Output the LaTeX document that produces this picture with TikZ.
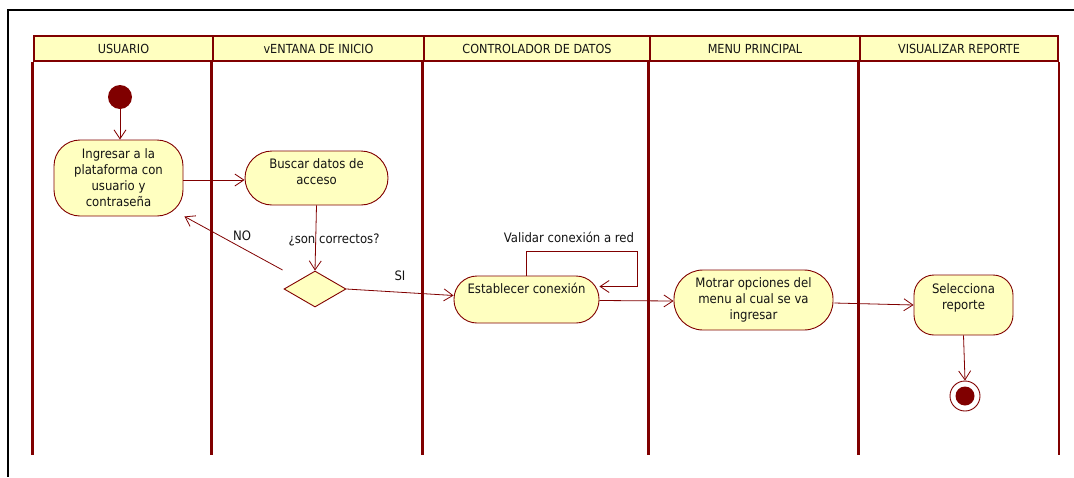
\documentclass[tikz,border=0pt]{standalone}
\usepackage{fontspec}
\setmainfont{DejaVu Sans Condensed}
\usetikzlibrary{arrows.meta,shapes.geometric}
\definecolor{dr}{RGB}{128,0,0}
\definecolor{actfill}{RGB}{255,255,192}
\definecolor{txt}{RGB}{20,20,20}
% raise a (multi-line) centred text block inside a node without changing its size
\newcommand{\liftby}[2]{\smash{\raisebox{#1}{\begin{tabular}{@{}c@{}}#2\end{tabular}}}}
\tikzset{
  lane/.style={draw=dr, line width=3pt},
  lanehead/.style={draw=dr, line width=2.4pt, fill=actfill, minimum height=25pt, inner sep=0pt,
    font=\fontsize{12.5}{14}\selectfont, text=txt},
  act/.style={draw=dr, line width=0.9pt, fill=actfill, align=center, inner sep=0pt,
    font=\fontsize{13}{16}\selectfont, text=txt},
  flow/.style={draw=dr, line width=0.8pt, -{Straight Barb[length=9pt,width=12pt,line width=0.8pt]}},
  lbl/.style={font=\fontsize{13}{15}\selectfont, text=txt, inner sep=1pt},
}
\begin{document}
\begin{tikzpicture}[x=1pt,y=-1pt]
\useasboundingbox (0,0) rectangle (1074,477);
% outer frame
\draw[black, line width=2pt] (1074,10) -- (8,10) -- (8,477);

% lane headers
\node[lanehead, minimum width=179pt] (h1) at (123.5,48.5) {USUARIO};
\node[lanehead, minimum width=211pt] (h2) at (318.5,48.5) {vENTANA DE INICIO};
\node[lanehead, minimum width=226pt] (h3) at (537,48.5) {CONTROLADOR DE DATOS};
\node[lanehead, minimum width=210pt] (h4) at (755,48.5) {MENU PRINCIPAL};
\node[lanehead, minimum width=198pt] (h5) at (959,48.5) {VISUALIZAR REPORTE};

% lane separators
\draw[lane] (h1.south west) -- (h1.south west |- 0,455);
\draw[lane] (h2.south west) -- (h2.south west |- 0,455);
\draw[lane] (h3.south west) -- (h3.south west |- 0,455);
\draw[lane] (h4.south west) -- (h4.south west |- 0,455);
\draw[lane] (h5.south west) -- (h5.south west |- 0,455);
\draw[draw=dr, line width=2pt] (h5.south east) -- (h5.south east |- 0,455);

% activity nodes
\fill[dr] (120,97) circle (12pt);
\coordinate (start) at (120,109);
\node[act, rounded corners=26pt, minimum width=129pt, minimum height=76pt] (ing) at (118.5,178)
  {Ingresar a la\\plataforma con\\usuario y\\contraseña};
\node[act, rounded corners=27pt, minimum width=143pt, minimum height=54pt] (bus) at (316.5,178)
  {\liftby{1.5pt}{Buscar datos de\\acceso}};
\node[diamond, draw=dr, line width=0.9pt, fill=actfill, minimum width=62pt, minimum height=36pt,
  aspect=1.72, inner sep=0pt] (dec) at (315,289) {};
\node[act, rounded corners=23pt, minimum width=145pt, minimum height=47pt] (est) at (526.5,299.5)
  {\liftby{6pt}{Establecer conexión}};
\node[act, rounded corners=29pt, minimum width=159pt, minimum height=60pt] (mot) at (753.5,300)
  {Motrar opciones del\\menu al cual se va\\ingresar};
\node[act, rounded corners=20pt, minimum width=99pt, minimum height=60pt] (sel) at (963.5,305)
  {\liftby{4pt}{Selecciona\\reporte}};
\node[circle, draw=dr, line width=0.9pt, fill=white, minimum size=30pt, inner sep=0pt] (fin) at (965,396) {};
\fill[dr] (fin.center) circle (9.5pt);

% flows
\draw[flow] (start) -- (ing.north -| start);
\draw[flow] ([yshift=-2pt]ing.east) -- ([yshift=-2pt]bus.west);
\draw[flow] (bus.south) -- (dec.north);
\draw[flow] ([xshift=-1pt,yshift=19pt]dec.west) -- ([xshift=1pt]ing.south east);
\draw[flow] (dec.east) -- ([yshift=4pt]est.west);
\coordinate (loopc) at (637,251);
\draw[flow] (est.north) |- (loopc) |- ([yshift=13pt]est.east);
\draw[flow] ([yshift=-1pt]est.east) -- ([yshift=-1pt]mot.west);
\draw[flow] ([xshift=1pt,yshift=-3pt]mot.east) -- (sel.west);
\draw[flow] (sel.south) -- (fin.north);

% guard and note labels
\node[lbl] (no) at (242,236) {NO};
\node[lbl] (sonc) at (334,240) {¿son correctos?};
\node[lbl] (si) at (400,276) {SI};
\node[lbl] (val) at (569,237) {Validar conexión a red};
\end{tikzpicture}
\end{document}
